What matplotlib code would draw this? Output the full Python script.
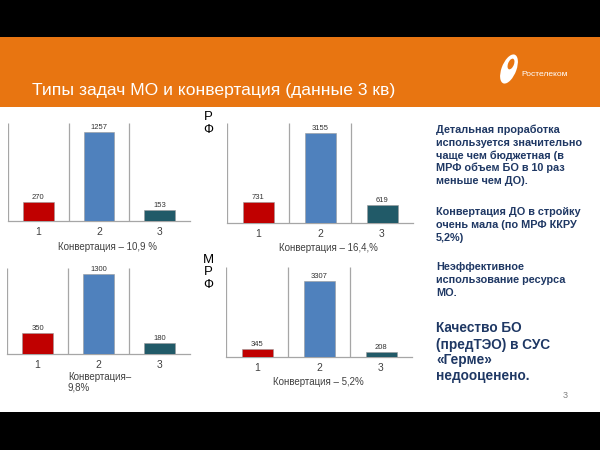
import matplotlib.pyplot as plt
import matplotlib.patches as mpatches

#===== data ============#
categories = ['1', '2', '3']
rf_left = [270, 1257, 153]
rf_right = [731, 3155, 619]
mrf_left = [350, 1300, 180]
mrf_right = [345, 3307, 208]
captions = ['Конвертация – 10,9 %', 'Конвертация – 16,4,%',
            'Конвертация–\n9,8%', 'Конвертация – 5,2%']
title = 'Типы задач МО и конвертация (данные 3 кв)'
bar_colors = ['#C00000', '#4F81BD', '#215A68']
#========================

W, H = 600, 450
plt.rcParams['font.family'] = ['Liberation Sans', 'DejaVu Sans']
fig = plt.figure(figsize=(6, 4.5), dpi=100)
fig.patch.set_facecolor('white')


def fx(x):
    return x / W


def fy(y):
    return 1 - y / H


def band(y0, y1, color):
    fig.patches.append(mpatches.Rectangle((0, fy(y1)), 1, (y1 - y0) / H,
                                          transform=fig.transFigure,
                                          facecolor=color, edgecolor='none', zorder=0))


band(0, 37, 'black')
band(37, 107, '#E87511')
band(412, 450, 'black')

fig.text(fx(32), fy(90), title, color='white', fontsize=12.6, va='center', ha='left')

# logo
fig.patches.append(mpatches.Ellipse((fx(509), fy(69)), 15 / W, 30 / H, angle=-15,
                                    transform=fig.transFigure, facecolor='white',
                                    edgecolor='none'))
fig.patches.append(mpatches.Ellipse((fx(511), fy(64)), 6 / W, 11 / H, angle=-15,
                                    transform=fig.transFigure, facecolor='#E87511',
                                    edgecolor='none'))
fig.text(fx(521), fy(75), 'Ростелеком', color='white', fontsize=6, va='center')


def chart(rect, values, ymax, caption, cap_xy, cap_ha='center'):
    x0, y0, x1, y1 = rect
    ax = fig.add_axes([fx(x0), fy(y1), (x1 - x0) / W, (y1 - y0) / H])
    ax.set_facecolor('none')
    pos = [1, 2, 3]
    ax.bar(pos, values, width=0.5, color=bar_colors, edgecolor='#9a9a9a', linewidth=0.4, zorder=3)
    for p, v in zip(pos, values):
        ax.text(p, v + ymax * 0.01, str(v), ha='center', va='bottom', fontsize=5.5, color='#333333')
    ax.vlines([0.5, 1.5, 2.5], 0, ymax, color='#A6A6A6', linewidth=0.9, zorder=1)
    ax.set_xlim(0.5, 3.5)
    ax.set_ylim(0, ymax)
    ax.set_xticks(pos)
    ax.set_xticklabels(categories, fontsize=7.5, color='#404040')
    ax.tick_params(axis='x', length=0, pad=4)
    ax.set_yticks([])
    for s in ['left', 'right', 'top']:
        ax.spines[s].set_visible(False)
    ax.spines['bottom'].set_color('#A6A6A6')
    ax.spines['bottom'].set_linewidth(0.9)
    fig.text(fx(cap_xy[0]), fy(cap_xy[1]), caption, ha=cap_ha, va='center',
             fontsize=7, color='#404040', linespacing=1.1)
    return ax


chart((8, 123, 190, 221), rf_left, 1385, captions[0], (107, 247))
chart((227, 123, 413, 223), rf_right, 3500, captions[1], (328, 248))
chart((7, 268, 190, 354), mrf_left, 1400, captions[2], (68, 382), cap_ha='left')
chart((226, 267, 412, 357), mrf_right, 3900, captions[3], (318, 382))

# side letters
for t, y in zip(['Р', 'Ф'], [117, 130]):
    fig.text(fx(208), fy(y), t, ha='center', va='center', fontsize=9.5, color='black')
for t, y in zip(['М', 'Р', 'Ф'], [260, 272, 285]):
    fig.text(fx(208), fy(y), t, ha='center', va='center', fontsize=9.5, color='black')

# right text block
navy = '#1F3864'
small_lines = [('Детальная проработка', 130), ('используется значительно', 143),
               ('чаще чем бюджетная (в', 156), ('МРФ объем БО в 10 раз', 168),
               ('меньше чем ДО).', 181), ('Конвертация ДО в стройку', 212),
               ('очень мала (по МРФ ККРУ', 225), ('5,2%)', 238),
               ('Неэффективное', 267), ('использование ресурса', 280), ('МО.', 293)]
for t, y in small_lines:
    fig.text(fx(436), fy(y), t, ha='left', va='center', fontsize=7.8,
             fontweight='bold', color=navy)
big_lines = [('Качество БО', 328), ('(предТЭО) в СУС', 345), ('«Герме»', 360),
             ('недооценено.', 376)]
for t, y in big_lines:
    fig.text(fx(436), fy(y), t, ha='left', va='center', fontsize=9.8,
             fontweight='bold', color=navy)

fig.text(fx(565), fy(395), '3', ha='center', va='center', fontsize=6.5, color='#808080')

fig.savefig('out.png', dpi=100)
